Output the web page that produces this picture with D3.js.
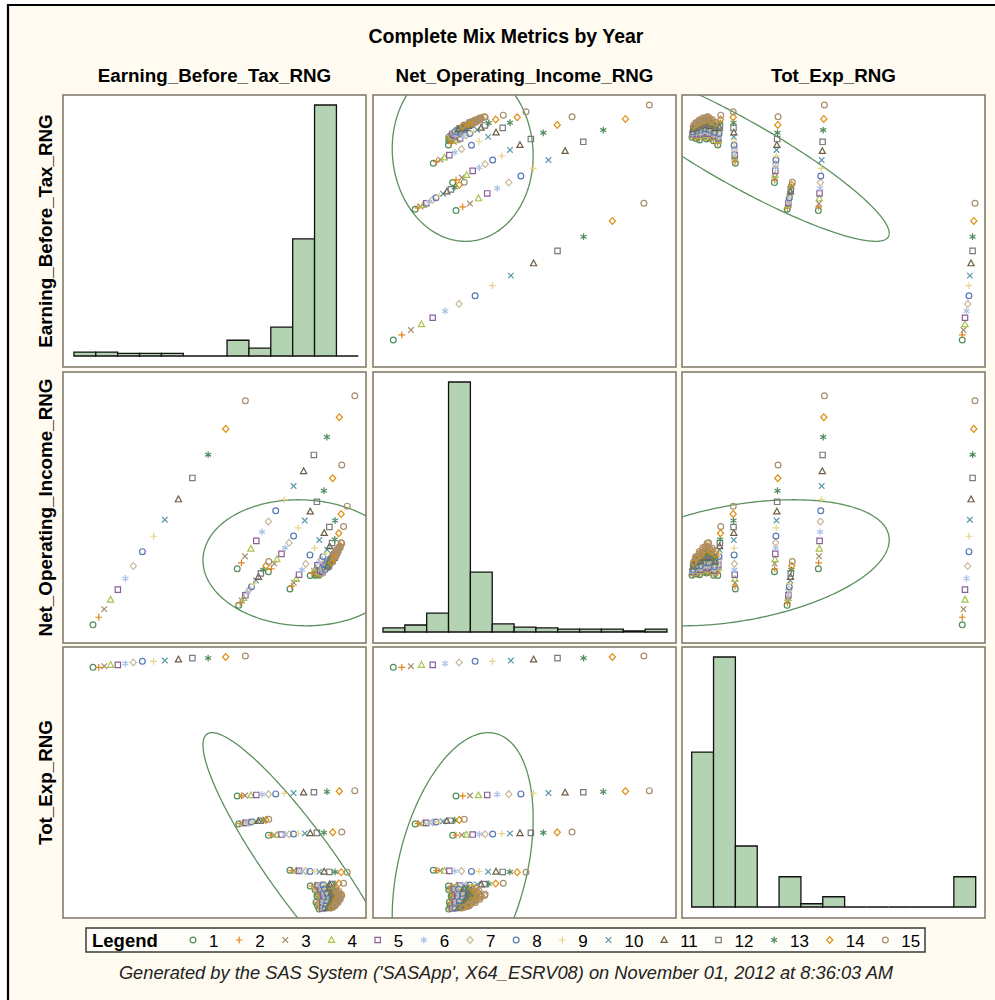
<!DOCTYPE html>
<html><head><meta charset="utf-8">
<script src="https://cdn.jsdelivr.net/npm/d3@7"></script>
<style>body{margin:0;background:#fff}svg{display:block}</style>
</head><body><svg id="c" width="995" height="1000"></svg>
<script>
// ---------------- DATA ----------------
const years = [1,2,3,4,5,6,7,8,9,10,11,12,13,14,15];
const varNames = ["Earning_Before_Tax_RNG","Net_Operating_Income_RNG","Tot_Exp_RNG"];
const title = "Complete Mix Metrics by Year";
const footnote = "Generated by the SAS System ('SASApp', X64_ESRV08) on November 01, 2012 at 8:36:03 AM";

// one row per entity, one value per year (1..15), units 0..1000
const ebt = [
 [99,118,136,157,181,206,232,262,299,336,381,427,479,537,602],
 [575,589,601,620,638,657,678,702,730,761,794,828,871,912,963],
 [678,688,697,706,721,733,746,761,776,798,816,838,861,890,920],
 [580,585,590,596,602,608,615,622,629,637,645,653,661,670,679],
 [749,755,762,770,779,789,801,815,830,846,862,879,898,918,938],
 [816,822,828,834,840,846,852,858,865,872,880,888,897,910,926],
 [845,848,851,853,856,859,862,865,868,871,874,878,881,885,890],
 [840,844,848,852,856,860,864,868,872,876,880,884,889,894,900],
 [835,839,846,850,856,859,866,871,874,881,885,889,896,900,906],
 [848,851,856,860,863,868,872,876,881,885,890,895,900,906,912],
 [838,843,849,853,858,864,869,874,879,885,891,897,904,911,918],
 [850,853,857,861,865,869,873,877,881,886,891,896,900,905,910],
 [832,836,840,845,849,854,858,863,868,873,878,884,889,895,900],
 [852,855,858,861,864,867,870,873,876,879,883,887,891,894,898],
 [858,861,864,867,871,874,878,882,886,890,894,898,901,905,908],
 [855,859,863,867,871,876,880,885,889,894,899,903,908,912,915],
 [862,866,870,874,878,882,886,890,894,898,902,906,911,916,920],
 [842,846,850,854,858,862,867,871,876,881,886,891,896,901,905]
];
const noi = [
 [67,95,125,160,197,238,284,337,394,455,530,609,695,790,894],
 [274,296,320,348,377,410,448,488,529,579,634,694,760,833,912],
 [263,274,293,309,329,351,370,395,425,452,485,521,562,608,657],
 [139,148,157,166,176,186,197,208,219,231,244,257,270,285,301],
 [199,210,222,236,252,270,292,325,350,380,406,428,452,476,505],
 [249,258,267,277,287,297,308,319,331,344,357,369,382,405,430],
 [250,253,256,259,262,265,268,271,274,278,282,286,290,295,300],
 [255,259,263,267,271,275,279,284,289,294,299,304,309,314,320],
 [252,256,261,265,270,275,280,285,291,296,302,309,316,325,335],
 [262,266,270,275,280,285,290,296,302,308,315,323,332,343,355],
 [258,262,267,272,277,283,289,295,302,310,318,327,338,353,370],
 [268,272,276,281,286,291,296,302,308,314,320,327,334,342,350],
 [250,254,258,262,267,272,277,282,288,294,300,307,315,327,340],
 [262,265,268,272,276,280,284,288,292,297,302,307,312,315,318],
 [265,269,273,277,282,287,292,297,302,308,314,320,326,332,338],
 [270,274,279,284,289,294,300,306,312,318,325,332,339,346,352],
 [275,279,284,289,294,300,306,312,318,325,332,340,348,358,368],
 [262,266,270,275,280,285,290,296,302,308,315,322,329,337,345]
];
const totExp = [
 [925,925,929,934,934,939,943,947,947,950,954,959,959,963,967],
 [450,451,452,453,454,456,457,458,460,461,463,464,466,468,470],
 [305,306,306,307,308,309,309,310,311,312,313,314,315,316,317],
 [347,348,349,350,351,352,353,354,355,357,358,359,361,362,364],
 [176,175,175,174,174,173,173,172,172,171,171,170,170,169,169],
 [118,118,119,120,120,121,122,122,123,124,124,125,126,127,128],
 [33,34,34,35,35,35,36,36,36,37,37,37,38,38,39],
 [46,46,47,47,47,48,48,48,49,49,49,50,50,51,51],
 [58,58,59,59,60,60,61,61,61,62,62,63,63,64,64],
 [70,70,71,71,72,72,73,73,74,74,75,75,76,76,77],
 [81,81,82,82,83,83,84,84,85,85,86,86,87,87,88],
 [93,93,94,94,95,95,96,96,97,97,98,98,99,99,100],
 [104,104,105,105,106,106,107,107,108,108,109,109,110,110,111],
 [40,40,41,41,42,42,42,43,43,43,44,44,44,45,45],
 [52,52,53,53,54,54,54,55,55,55,56,56,56,57,57],
 [64,64,65,65,66,66,66,67,67,67,68,68,68,69,69],
 [77,77,78,78,79,79,80,80,81,81,82,82,82,83,83],
 [88,88,89,89,90,90,91,91,92,92,93,93,93,94,94]
];
// prediction-ellipse statistics (same units)
const means = [790, 296, 187];
const sds = [134, 95, 203];
const corr = [[1,-0.04,-0.908],[-0.04,1,0.363],[-0.908,0.363,1]];
const ellipseC = 2.4477; // sqrt(chi2(2, .95))
// histogram bins (percent)
const histStart = [36, 33, 32];
const histWidth = [72.2, 72.1, 72.1];
const ebtPct = [0.9,0.9,0.6,0.6,0.6,0,0,3.6,1.8,6.6,26.8,57.4,0];
const noiPct = [1.1,1.9,5.1,67.7,16.2,2.2,1.3,1.1,0.8,0.8,0.8,0.3,0.8];
const texPct = [28.7,46.3,11.3,0,5.6,0.6,1.9,0,0,0,0,0,5.6];
// marker per year
const yearSymbol = ["circle","plus","x","triangle","square","asterisk","diamond","circle","plus","x","triangle","square","asterisk","diamond","circle"];
const yearColor = ["#4f8f5b","#e0851a","#a48b6b","#a6c34f","#8b5f9c","#a9c0e6","#c9b89a","#5677b6","#e9d48a","#5a98a8","#6e5d42","#7a7a7a","#4f8b5d","#e08d0e","#a88e6c"];

// ---------------- LAYOUT ----------------
const BG = "#fffbf1";
const colLeft = [63, 373, 682], panelW = 303;
const rowTop = [95, 372, 647], rowBottom = [367, 643, 918];
const font = "'Liberation Sans', Arial, sans-serif";

const svg = d3.select("#c");
svg.append("rect").attr("width",995).attr("height",1000).attr("fill","#fff");
svg.append("rect").attr("x",8).attr("y",5).attr("width",987).attr("height",995).attr("fill",BG);
svg.append("path").attr("d","M8,1000V5H995").attr("fill","none").attr("stroke","#000").attr("stroke-width",2.2);

const points = [];
ebt.forEach((row,i)=>row.forEach((v,j)=>points.push({v:[v, noi[i][j], totExp[i][j]], year:years[j], k:j})));
points.sort((a,b)=>a.year-b.year);

const xs = colLeft.map(l=>d3.scaleLinear().domain([0,1000]).range([l,l+panelW]));
const ys = rowTop.map((t,i)=>d3.scaleLinear().domain([0,1000]).range([rowBottom[i],t]));
const pcts = [ebtPct, noiPct, texPct];

const defs = svg.append("defs");

function symPath(s){
  switch(s){
    case "plus": return "M-3.4,0H3.4M0,-3.4V3.4";
    case "x": return "M-2.8,-2.8L2.8,2.8M-2.8,2.8L2.8,-2.8";
    case "triangle": return "M0,-3.3L3.1,2.4H-3.1Z";
    case "square": return "M-2.7,-2.7H2.7V2.7H-2.7Z";
    case "asterisk": return "M0,-3.4V3.4M-3,-1.7L3,1.7M-3,1.7L3,-1.7";
    case "diamond": return "M0,-3.4L3.1,0L0,3.4L-3.1,0Z";
  }
  return null;
}
function drawMarker(g, x, y, k){
  const s = yearSymbol[k], col = yearColor[k];
  if(s==="circle") g.append("circle").attr("cx",x).attr("cy",y).attr("r",2.9).attr("fill","none").attr("stroke",col).attr("stroke-width",1.2);
  else g.append("path").attr("d",symPath(s)).attr("transform",`translate(${x},${y})`).attr("fill","none").attr("stroke",col).attr("stroke-width",1.2);
}

for(let r=0;r<3;r++){
  for(let c=0;c<3;c++){
    const x0=colLeft[c], y0=rowTop[r], h=rowBottom[r]-rowTop[r];
    const id=`clip${r}${c}`;
    defs.append("clipPath").attr("id",id).append("rect").attr("x",x0).attr("y",y0).attr("width",panelW).attr("height",h);
    const g = svg.append("g");
    g.append("rect").attr("x",x0).attr("y",y0).attr("width",panelW).attr("height",h).attr("fill","#fff");
    const inner = g.append("g").attr("clip-path",`url(#${id})`);
    if(r===c){
      const vals = pcts[r];
      const hy = d3.scaleLinear().domain([0,d3.max(vals)]).range([rowBottom[r]-11, rowTop[r]+10]);
      vals.forEach((p,i)=>{
        const a = xs[c](histStart[r]+i*histWidth[r]), b = xs[c](histStart[r]+(i+1)*histWidth[r]);
        const yb = hy(0), yt = hy(p);
        inner.append("path").attr("d",`M${a},${yb}V${yt}H${b}V${yb}Z`)
          .attr("fill","#b4d3b3").attr("stroke","#111").attr("stroke-width",1.3);
      });
    } else {
      const mx=means[c], my=means[r], sx=sds[c]*ellipseC, sy=sds[r]*ellipseC, rr=corr[c][r], q=Math.sqrt(1-rr*rr);
      const ell = d3.range(0,361).map(a=>{const t=a*Math.PI/180;return [mx+sx*Math.cos(t), my+sy*(rr*Math.cos(t)+q*Math.sin(t))];});
      inner.append("path").attr("d",d3.line().x(d=>xs[c](d[0])).y(d=>ys[r](d[1]))(ell))
        .attr("fill","none").attr("stroke","#5d905f").attr("stroke-width",1.3);
      points.forEach(p=>drawMarker(inner, xs[c](p.v[c]), ys[r](p.v[r]), p.k));
    }
    g.append("rect").attr("x",x0).attr("y",y0).attr("width",panelW).attr("height",h)
      .attr("fill","none").attr("stroke","#827d6e").attr("stroke-width",1.6);
  }
}

// titles
svg.append("text").attr("x",506).attr("y",43).attr("text-anchor","middle").attr("font-family",font)
  .attr("font-weight","bold").attr("font-size",19.5).text(title);
varNames.forEach((n,i)=>{
  const cx = colLeft[i]+panelW/2;
  svg.append("text").attr("x",cx).attr("y",81.5).attr("text-anchor","middle").attr("font-family",font)
    .attr("font-weight","bold").attr("font-size",18.8).text(n);
  const cy = (rowTop[i]+rowBottom[i])/2;
  svg.append("text").attr("transform",`translate(51.5,${cy}) rotate(-90)`).attr("text-anchor","middle")
    .attr("font-family",font).attr("font-weight","bold").attr("font-size",18.8).text(n);
});

// legend
const lg = svg.append("g");
lg.append("rect").attr("x",86).attr("y",928).attr("width",839).attr("height",24).attr("fill","#fffdf7").attr("stroke","#3a3a3a").attr("stroke-width",1.5);
lg.append("text").attr("x",92).attr("y",946.5).attr("font-family",font).attr("font-weight","bold").attr("font-size",18.5).text("Legend");
let lx = 193;
years.forEach((yv,k)=>{
  drawMarker(lg, lx, 940, k);
  const t = lg.append("text").attr("x",lx+16).attr("y",946.5).attr("font-family",font).attr("font-size",17).text(String(yv));
  lx = lx + 16 + t.node().getComputedTextLength() + 20.7;
});

svg.append("text").attr("x",506).attr("y",979).attr("text-anchor","middle").attr("font-family",font)
  .attr("font-style","italic").attr("font-size",18.3).attr("fill","#222").text(footnote);
</script></body></html>
